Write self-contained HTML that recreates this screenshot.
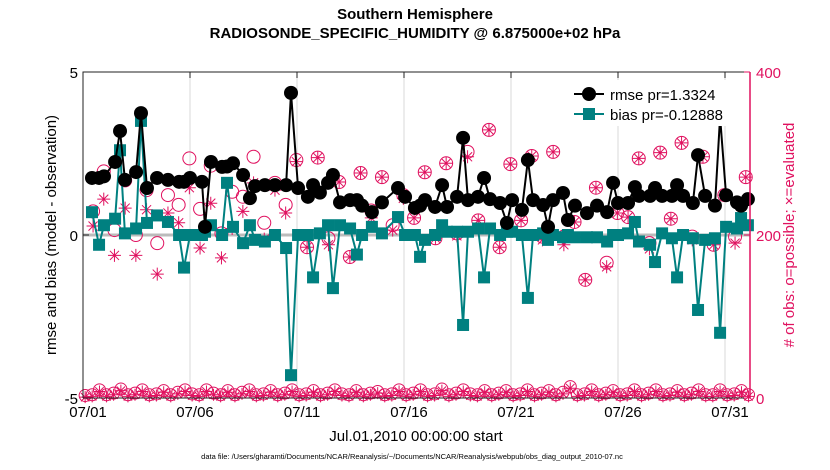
<!DOCTYPE html>
<html><head><meta charset="utf-8"><style>
body{margin:0;background:#fff;}
svg{display:block;font-family:"Liberation Sans",sans-serif;}
</style></head><body>
<svg id="chart" width="830" height="470" viewBox="0 0 830 470">
<text x="415" y="19" text-anchor="middle" font-size="15" font-weight="bold">Southern Hemisphere</text>
<text x="415" y="38" text-anchor="middle" font-size="15" font-weight="bold">RADIOSONDE_SPECIFIC_HUMIDITY @ 6.875000e+02 hPa</text>
<g id="grid"></g>
<g id="marks"></g>
<g id="axes"></g>
<text transform="translate(56,235) rotate(-90)" text-anchor="middle" font-size="15">rmse and bias (model - observation)</text>
<text transform="translate(794,235) rotate(-90)" text-anchor="middle" font-size="15" fill="#e0115f"># of obs: o=possible; ×=evaluated</text>
<text x="416" y="441" text-anchor="middle" font-size="15">Jul.01,2010 00:00:00 start</text>
<text x="412" y="459" text-anchor="middle" font-size="7.5">data file: /Users/gharamti/Documents/NCAR/Reanalysis/~/Documents/NCAR/Reanalysis/webpub/obs_diag_output_2010-07.nc</text>
<g>
<rect x="560" y="80" width="185" height="46" fill="#fff"/>
<g>
<line x1="574" y1="94" x2="604" y2="94" stroke="#000" stroke-width="2"/>
<circle cx="589" cy="94" r="7" fill="#000"/>
<text x="610" y="100" font-size="15">rmse pr=1.3324</text></g>
<g>
<line x1="574" y1="114" x2="604" y2="114" stroke="#008080" stroke-width="2"/>
<rect x="583" y="108" width="12" height="12" fill="#008080"/>
<text x="610" y="120" font-size="15">bias pr=-0.12888</text></g>
</g>
</svg>
<script>
const days=[0.42,0.75,0.98,1.50,1.73,1.96,2.48,2.71,2.99,3.46,3.97,4.49,4.72,5.00,5.56,5.70,5.98,6.50,6.73,7.01,7.48,7.80,8.04,8.50,8.97,9.49,9.72,10.05,10.51,10.75,11.07,11.45,11.68,12.01,12.48,12.80,13.04,13.50,13.97,14.72,15.05,15.51,15.75,15.98,16.45,16.78,17.01,17.48,17.76,17.99,18.46,18.74,19.02,19.49,19.81,20.05,20.51,20.79,21.03,21.50,21.73,21.96,22.43,22.66,22.99,23.55,24.02,24.49,24.77,25.00,25.47,25.79,25.98,26.50,26.73,27.06,27.52,27.76,28.04,28.50,28.74,29.07,29.53,29.77,30.05,30.56,30.75,31.07];
const rmse=[1.75,1.75,1.8,2.24,3.19,1.69,1.93,3.74,1.44,1.75,1.69,1.63,1.63,1.75,1.63,0.25,2.24,2.09,2.1,2.2,1.84,1.13,1.5,1.53,1.53,1.53,4.36,1.44,1.17,1.53,1.3,1.6,1.84,1.0,1.07,1.07,0.9,0.7,1.0,1.44,1.17,0.83,0.9,1.07,0.86,1.53,0.86,1.17,2.98,1.07,1.17,1.75,1.1,0.98,0.37,1.07,0.77,2.3,1.07,0.92,0.25,1.07,1.29,0.46,0.9,0.67,0.9,0.7,1.6,0.98,0.98,1.47,1.2,1.2,1.44,1.2,1.2,1.53,1.2,0.98,2.45,1.2,0.9,3.62,1.22,1.0,0.9,1.1];
const bias=[0.7,-0.3,0.3,0.5,2.6,0.05,0.2,3.5,0.37,0.6,0.4,0,-1.0,0,0,0.1,0.3,0,1.6,0.25,-0.25,0.3,-0.15,-0.2,0,-0.4,-4.3,0,0,-1.3,0.05,0.3,-1.63,0.3,0.2,-0.6,0,0.25,0.05,0.55,0,0,-0.67,-0.15,0,0.3,0.1,0.1,-2.76,0.1,0.2,-1.3,0.2,0,0.1,0.1,0,-1.93,0,0.05,-0.15,0,-0.07,0,-0.07,-0.07,-0.07,-0.2,0,0,0.05,0.4,-0.2,-0.3,-0.83,0.05,-0.1,-1.3,0,-0.1,-2.3,-0.15,-0.1,-3.0,0.25,0.2,0.52,0.3];
const obsDays=[0.47,0.97,1.47,1.97,2.47,2.97,3.47,3.97,4.47,4.97,5.47,5.97,6.47,6.97,7.47,7.97,8.47,8.97,9.47,9.97,10.47,10.97,11.47,11.97,12.47,12.97,13.47,13.97,14.47,14.97,15.47,15.97,16.47,16.97,17.47,17.97,18.47,18.97,19.47,19.97,20.47,20.97,21.47,21.97,22.47,22.97,23.47,23.97,24.47,24.97,25.47,25.97,26.47,26.97,27.47,27.97,28.47,28.97,29.47,29.97,30.47,30.97];
const possible=[229,278,206,267,200,255,190,249,237,294,232,285,202,253,247,296,215,264,237,292,185,295,196,265,173,276,230,271,212,249,221,277,196,288,202,302,218,329,185,287,218,297,198,302,198,216,145,258,166,227,222,294,190,301,220,313,198,296,188,249,198,271];
const evaluated=[211,244,175,233,175,231,152,227,215,258,184,239,172,208,229,264,195,255,227,290,185,295,188,265,173,276,221,271,206,245,221,277,196,288,199,296,218,329,185,287,218,297,194,302,188,216,145,258,161,227,222,294,183,301,220,313,194,296,188,249,190,271];
const lowDays=[0.1,0.43,0.77,1.1,1.43,1.77,2.1,2.43,2.77,3.1,3.43,3.77,4.1,4.43,4.77,5.1,5.43,5.77,6.1,6.43,6.77,7.1,7.43,7.77,8.1,8.43,8.77,9.1,9.43,9.77,10.1,10.43,10.77,11.1,11.43,11.77,12.1,12.43,12.77,13.1,13.43,13.77,14.1,14.43,14.77,15.1,15.43,15.77,16.1,16.43,16.77,17.1,17.43,17.77,18.1,18.43,18.77,19.1,19.43,19.77,20.1,20.43,20.77,21.1,21.43,21.77,22.1,22.43,22.77,23.1,23.43,23.77,24.1,24.43,24.77,25.1,25.43,25.77,26.1,26.43,26.77,27.1,27.43,27.77,28.1,28.43,28.77,29.1,29.43,29.77,30.1,30.43,30.77,31.1];
const lowCount=[3,4,10,4,6,11,4,6,10,4,5,9,4,7,10,5,4,10,6,4,9,4,7,10,4,5,9,4,6,10,4,5,9,4,6,10,5,4,9,4,6,8,4,5,10,4,6,10,4,5,11,4,6,10,5,4,9,4,6,9,4,5,10,4,6,9,4,7,14,4,5,10,4,6,9,4,5,10,4,6,10,4,5,9,4,6,10,4,4,10,4,5,9,4];
const xTickDays=[0,5,10,15,20,25,30];
const xTickLabels=["07/01","07/06","07/11","07/16","07/21","07/26","07/31"];
const yTicks=[5,0,-5];
const y2Ticks=[400,200,0];

const L=83,R=750,T=72,B=398;
const xs=d=>L+d*21.4;
const ys=v=>235-v*32.6;
const y2=v=>B-v*(B-T)/400;
const NS="http://www.w3.org/2000/svg";
function mk(tag,attrs,parent){const e=document.createElementNS(NS,tag);for(const k in attrs)e.setAttribute(k,attrs[k]);parent.appendChild(e);return e;}
const grid=document.getElementById('grid'),marks=document.getElementById('marks'),axes=document.getElementById('axes');

xTickDays.forEach((d,i)=>{
 if(d>0){const g=mk('line',{x1:xs(d),x2:xs(d),y1:T,y2:B,stroke:'#d8d8d8','stroke-width':1},grid);
 
 }
 const t=mk('line',{x1:xs(d),x2:xs(d),y1:T,y2:T+6,stroke:'#222','stroke-width':1},axes);
 
 
 const lb=mk('text',{x:xs(d)+5,y:B+19,'text-anchor':'middle','font-size':15},axes);
 lb.textContent=xTickLabels[i];
 
 
});
const zl=mk('line',{x1:L,x2:R,y1:ys(0),y2:ys(0),stroke:'#bbb','stroke-width':3},grid);



// obs low row
lowDays.forEach((d,i)=>{
 const g=mk('g',{},marks);
 
 
 const x=xs(d),y=y2(lowCount[i]);
 mk('circle',{cx:x,cy:y,r:6,fill:'none',stroke:'#e0115f','stroke-width':1},g);
 drawStar(g,x,y2(lowCount[i]-2),6);
});
function drawStar(g,x,y,s){
 const p=`M${x-s},${y}L${x+s},${y}M${x},${y-s}L${x},${y+s}M${x-s*0.7},${y-s*0.7}L${x+s*0.7},${y+s*0.7}M${x-s*0.7},${y+s*0.7}L${x+s*0.7},${y-s*0.7}`;
 mk('path',{d:p,stroke:'#e0115f','stroke-width':1,fill:'none'},g);
}
obsDays.forEach((d,i)=>{
 const c=mk('circle',{cx:xs(d),cy:y2(possible[i]),r:6.5,fill:'none',stroke:'#e0115f','stroke-width':1},marks);
 
 
 const g=mk('g',{},marks);
 
 
 drawStar(g,xs(d),y2(evaluated[i]),6.5);
});
// bias
const bp=mk('polyline',{points:days.map((d,i)=>xs(d)+','+ys(bias[i])).join(' '),fill:'none',stroke:'#008080','stroke-width':2},marks);


days.forEach((d,i)=>{const r=mk('rect',{x:xs(d)-6,y:ys(bias[i])-6,width:12,height:12,fill:'#008080'},marks);
 
 });
// rmse
const rp=mk('polyline',{points:days.map((d,i)=>xs(d)+','+ys(rmse[i])).join(' '),fill:'none',stroke:'#000','stroke-width':2},marks);


days.forEach((d,i)=>{const c=mk('circle',{cx:xs(d),cy:ys(rmse[i]),r:7,fill:'#000'},marks);
 
 });

// axes frame
const fr=mk('path',{d:`M${L},${B}L${L},${T}L${R},${T}`,fill:'none',stroke:'#222','stroke-width':1},axes);


const bx=mk('line',{x1:L,x2:R,y1:B,y2:B,stroke:'#222','stroke-width':1},axes);


const ra=mk('line',{x1:R,x2:R,y1:T,y2:B,stroke:'#e0115f','stroke-width':1.5},axes);


yTicks.forEach(v=>{
 const t=mk('text',{x:L-5,y:ys(v)+6,'text-anchor':'end','font-size':15},axes);
 t.textContent=v;
 
 
 mk('line',{x1:L,x2:L+6,y1:ys(v),y2:ys(v),stroke:'#222'},axes);
});
y2Ticks.forEach(v=>{
 const t=mk('text',{x:R+6,y:y2(v)+6,'font-size':15,fill:'#e0115f'},axes);
 t.textContent=v;
 
 
 mk('line',{x1:R-6,x2:R,y1:y2(v),y2:y2(v),stroke:'#e0115f'},axes);
});
</script>
</body></html>
